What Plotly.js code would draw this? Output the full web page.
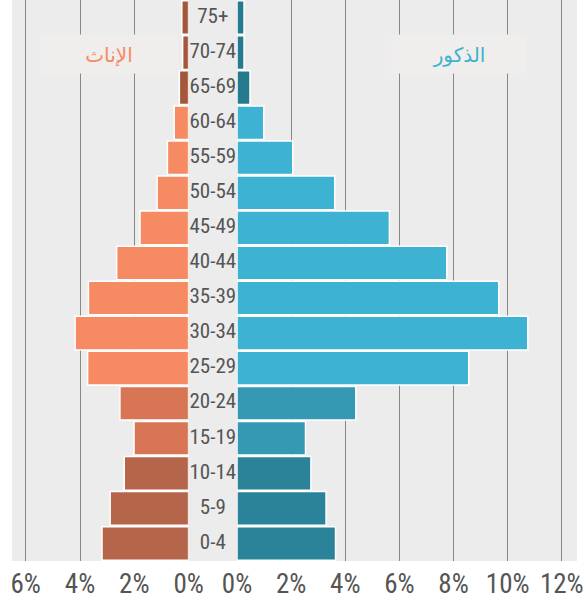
<!DOCTYPE html>
<html>
<head>
<meta charset="utf-8">
<script src="https://cdn.plot.ly/plotly-3.0.1.min.js"></script>
<style>html,body{margin:0;padding:0;background:#fff;}#chart{width:587px;height:600px;}</style>
</head>
<body>
<div id="chart"></div>
<script>
// Data
const ageGroups = ["0-4","5-9","10-14","15-19","20-24","25-29","30-34","35-39","40-44","45-49","50-54","55-59","60-64","65-69","70-74","75+"];
const femaleValues = [3.19, 2.89, 2.37, 2.01, 2.53, 3.72, 4.18, 3.69, 2.65, 1.79, 1.16, 0.78, 0.53, 0.34, 0.22, 0.25];
const maleValues = [3.64, 3.29, 2.73, 2.53, 4.39, 8.56, 10.74, 9.67, 7.75, 5.63, 3.61, 2.06, 0.99, 0.48, 0.26, 0.26];
const femaleLabel = "الإناث";
const maleLabel = "الذكور";
const leftTicks = [6, 4, 2, 0];
const rightTicks = [0, 2, 4, 6, 8, 10, 12];

// Styles
const femaleColors = ["#b5664a","#b5664a","#b5664a","#d87555","#d87555","#f68a63","#f68a63","#f68a63","#f68a63","#f68a63","#f68a63","#f68a63","#f68a63","#a5573c","#a5573c","#a5573c"];
const maleColors = ["#2b8399","#2b8399","#2b8399","#3699b4","#3699b4","#3db2d2","#3db2d2","#3db2d2","#3db2d2","#3db2d2","#3db2d2","#3db2d2","#3db2d2","#267a8e","#267a8e","#267a8e"];
const FONT = "'Roboto Condensed', 'DejaVu Sans Condensed', 'Liberation Sans Narrow', Roboto, sans-serif";
const W = 587, PH = 561;

const traces = [
  {type:'bar', orientation:'h', y:ageGroups, x:femaleValues, xaxis:'x', yaxis:'y',
   marker:{color:femaleColors, line:{color:'#ffffff', width:1.5}}, hoverinfo:'x+y'},
  {type:'bar', orientation:'h', y:ageGroups, x:maleValues, xaxis:'x2', yaxis:'y',
   marker:{color:maleColors, line:{color:'#ffffff', width:1.5}}, hoverinfo:'x+y'},
  {type:'scatter', mode:'text', y:ageGroups, x:ageGroups.map(()=>0), text:ageGroups,
   texttemplate:'\u200E%{text}\u200E',
   xaxis:'x3', yaxis:'y', textposition:'middle center',
   textfont:{family:FONT, size:21, color:'#555555'}, hoverinfo:'skip'}
];

const layout = {
  width: W, height: 600,
  margin:{l:0, r:0, t:0, b:600-PH, pad:0},
  paper_bgcolor:'#ffffff', plot_bgcolor:'#ececec',
  showlegend:false, bargap:0.04,
  font:{family:FONT, color:'#555555'},
  xaxis:{domain:[12/W, 188.6/W], range:[6.505, 0], autorange:false, anchor:'y',
    tickvals:leftTicks, ticktext:leftTicks.map(v=>v+'%'), ticklabelstandoff:4,
    showgrid:true, gridcolor:'#888888', gridwidth:1, zeroline:false, showline:false,
    ticks:'', tickfont:{family:FONT, size:27, color:'#555555'}, fixedrange:true},
  xaxis2:{domain:[237/W, 577/W], range:[0, 12.56], autorange:false, anchor:'y',
    tickvals:rightTicks, ticktext:rightTicks.map(v=>v+'%'), ticklabelstandoff:4,
    showgrid:true, gridcolor:'#888888', gridwidth:1, zeroline:false, showline:false,
    ticks:'', tickfont:{family:FONT, size:27, color:'#555555'}, fixedrange:true},
  xaxis3:{domain:[188.6/W, 237/W], range:[-1, 1], anchor:'y', showgrid:false, zeroline:false,
    showticklabels:false, showline:false, fixedrange:true},
  yaxis:{domain:[0,1], type:'category', categoryorder:'array', categoryarray:ageGroups,
    range:[-0.5, ageGroups.length-0.5], showgrid:false, zeroline:false,
    showticklabels:false, showline:false, ticks:'', fixedrange:true, anchor:'x'},
  annotations:[
    {xref:'paper', yref:'paper', x:109/W, y:1-54/PH, xanchor:'center', yanchor:'middle',
     text:femaleLabel, showarrow:false, width:136, height:38, bgcolor:'#efeeec', borderpad:0,
     font:{family:"'Noto Sans', 'DejaVu Sans', sans-serif", size:20, color:'#f68a63'}},
    {xref:'paper', yref:'paper', x:459/W, y:1-54/PH, xanchor:'center', yanchor:'middle',
     text:maleLabel, showarrow:false, width:134, height:38, bgcolor:'#efeeec', borderpad:0,
     font:{family:"'Noto Sans', 'DejaVu Sans', sans-serif", size:20, color:'#3db2d2'}}
  ]
};

Plotly.newPlot('chart', traces, layout, {displayModeBar:false, staticPlot:true});
</script>
</body>
</html>
